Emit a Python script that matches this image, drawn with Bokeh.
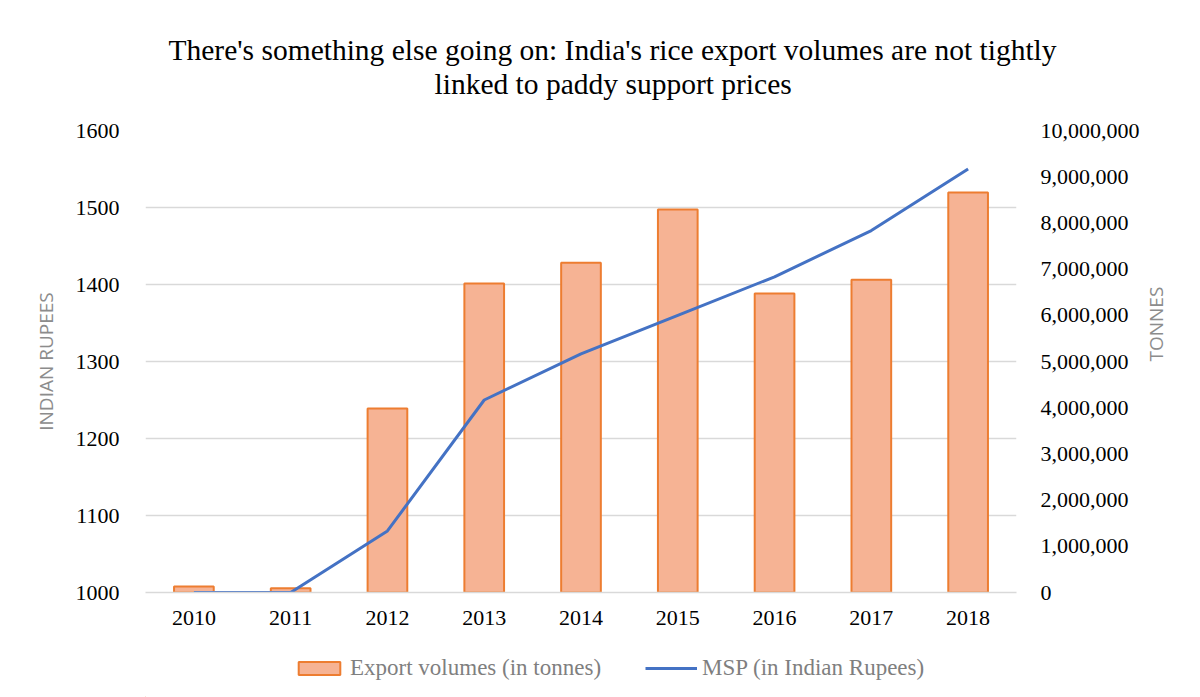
import math
from bokeh.plotting import figure
from bokeh.layouts import column
from bokeh.models import (Range1d, LinearAxis, FactorRange, NumeralTickFormatter, FixedTicker,
                          Legend, LegendItem, Title)
from bokeh.embed import file_html
from bokeh.resources import INLINE

# ---- data ----
years = ["2010", "2011", "2012", "2013", "2014", "2015", "2016", "2017", "2018"]
export_tonnes = [130000, 90000, 3980000, 6690000, 7140000, 8290000, 6470000, 6770000, 8660000]
msp_rupees = [1000, 1000, 1080, 1250, 1310, 1360, 1410, 1470, 1550]
left_ticks = [1000, 1100, 1200, 1300, 1400, 1500, 1600]
right_ticks = [0, 1000000, 2000000, 3000000, 4000000, 5000000, 6000000, 7000000, 8000000, 9000000, 10000000]
title_lines = ["There's something else going on: India's rice export volumes are not tightly",
               "linked to paddy support prices"]
series_names = ["Export volumes (in tonnes)", "MSP (in Indian Rupees)"]

SERIF = "Liberation Serif"
GRID = "#D9D9D9"
BAR_FILL = "#F6B394"
BAR_LINE = "#ED7D31"
LINE_COLOR = "#4472C4"

p = figure(width=1184, height=632, x_range=FactorRange(*years),
           y_range=Range1d(1000, 1600), output_backend="svg", toolbar_location=None,
           title=None, min_border_left=145, min_border_right=162, min_border_top=130,
           min_border_bottom=40)
p.x_range.factor_padding = 0.0
p.x_range.range_padding = 0.0
p.outline_line_color = None
p.background_fill_color = "white"
p.border_fill_color = "white"

p.extra_y_ranges = {"tonnes": Range1d(0, 10000000)}

# grid
p.xgrid.grid_line_color = None
p.ygrid.grid_line_color = GRID
p.ygrid.grid_line_width = 1.5

# left axis
ya = p.yaxis[0]
ya.ticker = FixedTicker(ticks=left_ticks)
ya.axis_line_color = None
ya.major_tick_line_color = None
ya.minor_tick_line_color = None
ya.major_label_text_font = SERIF
ya.major_label_text_font_size = "22px"
ya.major_label_text_color = "#000000"
ya.major_label_standoff = 20
ya.axis_label = "INDIAN RUPEES"
ya.axis_label_text_font = "Open Sans"
ya.axis_label_text_font_style = "normal"
ya.axis_label_text_font_size = "19px"
ya.axis_label_text_color = "#8C8C8C"
ya.axis_label_standoff = 14

# right axis
ra = LinearAxis(y_range_name="tonnes", ticker=FixedTicker(ticks=right_ticks),
                formatter=NumeralTickFormatter(format="0,0"))
ra.axis_line_color = None
ra.major_tick_line_color = None
ra.minor_tick_line_color = None
ra.major_label_text_font = SERIF
ra.major_label_text_font_size = "22px"
ra.major_label_text_color = "#000000"
ra.major_label_standoff = 18
ra.axis_label = "TONNES"
ra.axis_label_text_font = "Open Sans"
ra.axis_label_text_font_style = "normal"
ra.axis_label_text_font_size = "19px"
ra.axis_label_text_color = "#8C8C8C"
ra.axis_label_standoff = 13
if hasattr(ra, "axis_label_orientation"):
    ra.axis_label_orientation = math.pi / 2
p.add_layout(ra, "right")

# x axis
xa = p.xaxis[0]
xa.axis_line_color = GRID
xa.axis_line_width = 1.5
xa.major_tick_line_color = None
xa.minor_tick_line_color = None
xa.major_label_text_font = SERIF
xa.major_label_text_font_size = "22px"
xa.major_label_text_color = "#000000"
xa.major_label_standoff = 12

# glyphs
p.vbar(x=years, top=export_tonnes, bottom=0, width=0.41, y_range_name="tonnes",
       fill_color=BAR_FILL, line_color=BAR_LINE, line_width=2)
p.line(x=years, y=msp_rupees, line_color=LINE_COLOR, line_width=3)

# title lines: spacer closest to the plot, then line 2, then line 1
p.add_layout(Title(text=" ", text_font=SERIF, text_font_size="26px", standoff=0), "above")
p.add_layout(Title(text=title_lines[1], align="left", offset=289, text_font=SERIF,
                   text_font_size="29.5px", text_font_style="normal", text_color="#000000",
                   standoff=0), "above")
p.add_layout(Title(text=title_lines[0], align="left", offset=23, text_font=SERIF,
                   text_font_size="29.5px", text_font_style="normal", text_color="#000000",
                   standoff=0), "above")

# legend strip underneath the chart (its frame is aligned with the chart frame by the column)
lg = figure(width=1184, height=65, output_backend="svg", toolbar_location=None,
            x_axis_location=None, y_axis_location=None, min_border=0,
            x_range=Range1d(0, 1), y_range=Range1d(0, 1))
lg.outline_line_color = None
lg.xgrid.grid_line_color = None
lg.ygrid.grid_line_color = None
# proxy renderers kept outside the visible range, used only for legend swatches
lg_bar = lg.vbar(x=[-5], top=[-5], bottom=[-6], width=0.4,
                 fill_color=BAR_FILL, line_color=BAR_LINE, line_width=2)
lg_line = lg.line(x=[-6, -5], y=[-5, -5], line_color=LINE_COLOR, line_width=3)
legend = Legend(items=[LegendItem(label=series_names[0], renderers=[lg_bar]),
                       LegendItem(label=series_names[1], renderers=[lg_line])],
                location=(148, 16), orientation="horizontal",
                label_text_font=SERIF, label_text_font_size="23px",
                label_text_color="#7F7F7F", glyph_width=52, glyph_height=16,
                label_standoff=5, spacing=44, padding=5, margin=0,
                border_line_color=None, background_fill_alpha=0)
lg.add_layout(legend, "center")

open("out.html", "w").write(file_html(column(p, lg), INLINE))
